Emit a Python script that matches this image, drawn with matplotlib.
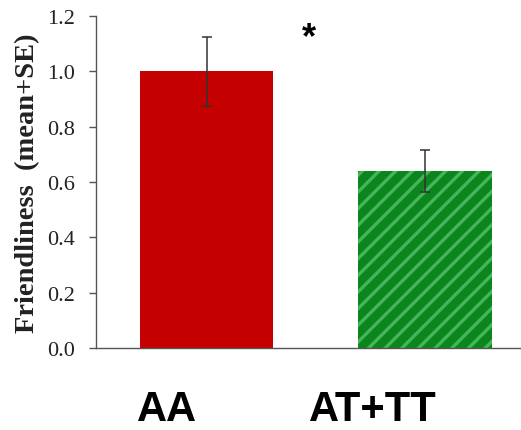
import numpy as np
import matplotlib
matplotlib.use("Agg")
import matplotlib.pyplot as plt
from matplotlib.transforms import blended_transform_factory

groups = ["AA", "AT+TT"]
means = [1.0, 0.64]
errs_low = [0.125, 0.075]
errs_high = [0.125, 0.075]
yticks = [0.0, 0.2, 0.4, 0.6, 0.8, 1.0, 1.2]

plt.rcParams['hatch.linewidth'] = 2.4
plt.rcParams['hatch.color'] = "#3fae52"

fig = plt.figure(figsize=(5.21, 4.31), dpi=100)
ax = fig.add_axes([0.1843, 0.1903, 0.8157, 0.7703])

x = np.arange(len(groups))
w = 0.61
ax.bar(x[0], means[0], w, color="#c40000", edgecolor="none", zorder=2)
ax.bar(x[1], means[1], w, color="#0a861c", edgecolor="#45b45a", linewidth=0,
       hatch="//", zorder=2)
ax.errorbar(x, means, yerr=[errs_low, errs_high], fmt="none", ecolor="#333333",
            elinewidth=1.1, capsize=3.8, capthick=1.1, zorder=3)

ax.set_xlim(-0.506, 1.44)
ax.set_ylim(0, 1.2)
ax.set_yticks(yticks)
ax.set_yticklabels([f"{v:.1f}" for v in yticks], family="Liberation Serif",
                   fontsize=16, color="#222222")
ax.tick_params(axis="y", direction="out", length=5, width=1, color="#555555", pad=10)
ax.set_xticks([])
for s in ["top", "right"]:
    ax.spines[s].set_visible(False)
for s in ["left", "bottom"]:
    ax.spines[s].set_color("#555555")
    ax.spines[s].set_linewidth(1)

ax.set_ylabel("Friendliness  (mean+SE)", family="Liberation Serif",
              fontweight="bold", fontsize=20.5, color="#222222", labelpad=5)

ax.text(0.47, 1.12, "*", fontsize=26, fontweight="bold", ha="center", va="center",
        family="Liberation Sans")

trans = blended_transform_factory(ax.transData, fig.transFigure)
label_x = [x[0] - 0.18, x[1] - 0.24]
for lx, g in zip(label_x, groups):
    ax.text(lx, 0.048, g, transform=trans, ha="center", va="center",
            fontsize=30, fontweight="bold", family="Liberation Sans", clip_on=False)

fig.savefig("out.png", dpi=100)
